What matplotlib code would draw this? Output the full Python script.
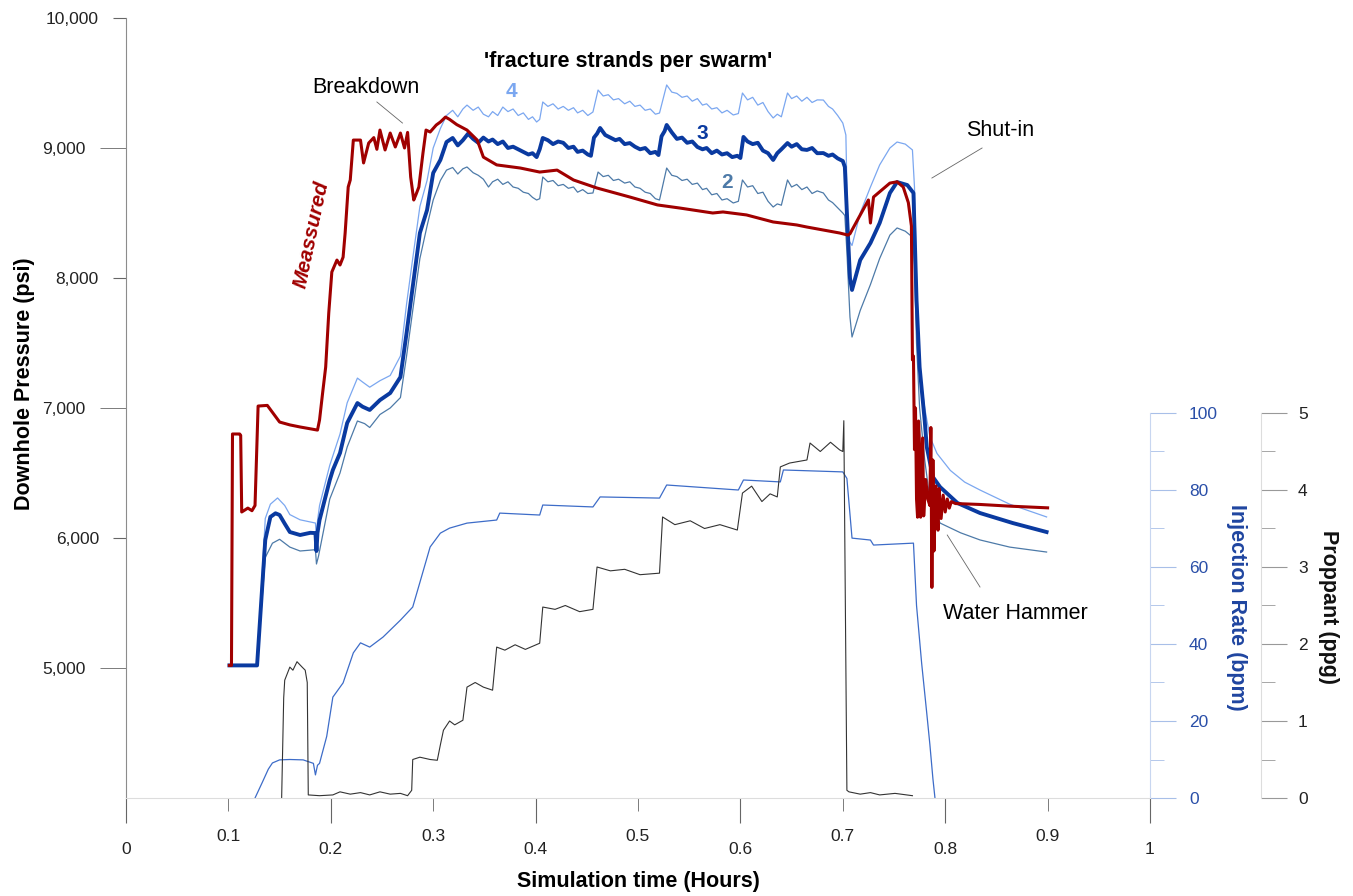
import matplotlib.pyplot as plt

plt.rcParams['font.family'] = ['Liberation Sans', 'DejaVu Sans']

# ---- data (time in hours) ----
# measured downhole pressure (psi)
t_meas = [0.101, 0.103, 0.104, 0.111, 0.112, 0.113, 0.119, 0.123, 0.126, 0.129, 0.138, 0.150,
          0.160, 0.170, 0.180, 0.187, 0.189, 0.192, 0.195, 0.198, 0.201, 0.206, 0.209, 0.212,
          0.214, 0.217, 0.219, 0.222, 0.229, 0.232, 0.237, 0.242, 0.245, 0.248, 0.253, 0.258,
          0.263, 0.268, 0.272, 0.275, 0.278, 0.281, 0.283, 0.286, 0.290, 0.293, 0.297, 0.303,
          0.307, 0.312, 0.316, 0.323, 0.333, 0.343, 0.349, 0.362, 0.385, 0.404, 0.421, 0.437,
          0.460, 0.492, 0.519, 0.541, 0.573, 0.583, 0.606, 0.632, 0.655, 0.665, 0.697, 0.705,
          0.707, 0.725, 0.727, 0.730, 0.746, 0.753, 0.759, 0.764, 0.767, 0.768, 0.769, 0.770,
          0.771, 0.772, 0.773, 0.774, 0.775, 0.776, 0.777, 0.778, 0.779, 0.781, 0.783, 0.785,
          0.786, 0.787, 0.788, 0.789, 0.791, 0.793, 0.794, 0.796, 0.798, 0.800, 0.802, 0.804,
          0.806, 0.810, 0.834, 0.863, 0.900]
p_meas = [5020, 5020, 6800, 6800, 6790, 6200, 6230, 6210, 6250, 7015, 7020, 6892,
          6870, 6854, 6840, 6830, 6908, 7115, 7315, 7730, 8046, 8138, 8100, 8160,
          8346, 8700, 8754, 9061, 9061, 8885, 9038, 9080, 8990, 9138, 8985, 9115,
          9008, 9115, 9000, 9120, 8777, 8600, 8638, 8700, 8961, 9138, 9123, 9177,
          9200, 9238, 9220, 9180, 9138, 9061, 8930, 8870, 8846, 8815, 8830, 8754,
          8692, 8623, 8562, 8538, 8500, 8508, 8485, 8431, 8408, 8392, 8346, 8330,
          8340, 8600, 8423, 8623, 8730, 8740, 8700, 8580, 8400, 7370, 7400, 6680,
          7000, 6300, 6160, 6900, 6700, 6160, 6500, 6770, 6170, 6450, 6300, 6250,
          6850, 5620, 6600, 5900, 6400, 6060, 6380, 6150, 6330, 6200, 6300, 6230,
          6280, 6265, 6258, 6245, 6232]

# simulated pressure, 3 strands per swarm
t_sim3 = [0.101, 0.128, 0.136, 0.141, 0.146, 0.150, 0.155, 0.160, 0.170, 0.180, 0.185, 0.186,
          0.187, 0.189, 0.199, 0.202, 0.209, 0.216, 0.226, 0.231, 0.238, 0.248, 0.258, 0.268,
          0.274, 0.280, 0.287, 0.294, 0.300, 0.307, 0.313, 0.319, 0.324, 0.329, 0.334, 0.339,
          0.344, 0.349, 0.354, 0.358, 0.363, 0.368, 0.373, 0.378, 0.383, 0.388, 0.393, 0.397,
          0.401, 0.404, 0.407, 0.412, 0.417, 0.422, 0.427, 0.432, 0.437, 0.441, 0.446, 0.451,
          0.454, 0.457, 0.460, 0.463, 0.468, 0.473, 0.478, 0.482, 0.487, 0.492, 0.497, 0.502,
          0.507, 0.512, 0.517, 0.520, 0.523, 0.526, 0.528, 0.533, 0.538, 0.543, 0.548, 0.553,
          0.558, 0.563, 0.567, 0.572, 0.577, 0.582, 0.587, 0.592, 0.597, 0.600, 0.603, 0.607,
          0.612, 0.617, 0.622, 0.627, 0.632, 0.636, 0.640, 0.646, 0.650, 0.655, 0.660, 0.665,
          0.670, 0.675, 0.681, 0.686, 0.690, 0.695, 0.700, 0.702, 0.704, 0.707, 0.709, 0.717,
          0.727, 0.736, 0.746, 0.753, 0.763, 0.769, 0.772, 0.775, 0.780, 0.782, 0.788, 0.795,
          0.812, 0.834, 0.866, 0.899]
p_sim3 = [5020, 5020, 5985, 6162, 6190, 6177, 6110, 6046, 6023, 6040, 6038, 5900,
          6040, 6138, 6446, 6523, 6654, 6885, 7038, 7010, 6985, 7061, 7115, 7238,
          7577, 7931, 8346, 8523, 8808, 8908, 9046, 9077, 9020, 9060, 9110, 9070,
          9040, 9080, 9050, 9065, 9030, 9050, 9000, 9010, 8990, 8970, 8950, 8960,
          8930, 8990, 9077, 9060, 9030, 9050, 9040, 9000, 9010, 8970, 8980, 8950,
          8940, 9080, 9110, 9154, 9100, 9080, 9060, 9070, 9030, 9038, 9010, 8990,
          9000, 8960, 8970, 8946, 9090, 9130, 9177, 9120, 9070, 9080, 9040, 9050,
          9008, 8990, 9000, 8960, 8980, 8950, 8960, 8930, 8940, 8923, 9085, 9050,
          9030, 9040, 8980, 8960, 8908, 8960, 8990, 9038, 9010, 9030, 8990, 8985,
          9000, 8960, 8961, 8940, 8950, 8920, 8900, 8854, 8500, 8000, 7908, 8138,
          8269, 8423, 8654, 8738, 8715, 8654, 7831, 7315, 6900, 6700, 6469, 6392,
          6269, 6192, 6115, 6046]

# simulated pressure, 4 strands per swarm
t_sim4 = [0.101, 0.128, 0.136, 0.141, 0.148, 0.155, 0.160, 0.170, 0.185, 0.186, 0.187, 0.189,
          0.199, 0.209, 0.216, 0.226, 0.231, 0.238, 0.248, 0.258, 0.268, 0.274, 0.280, 0.287,
          0.294, 0.300, 0.307, 0.313,
          0.319, 0.324, 0.329, 0.333, 0.339, 0.344, 0.349, 0.354, 0.358, 0.363,
          0.368, 0.373, 0.378, 0.383, 0.388, 0.393, 0.397, 0.401, 0.404, 0.407,
          0.412, 0.417, 0.422, 0.427, 0.432, 0.437, 0.441, 0.446, 0.451, 0.456,
          0.461, 0.466, 0.471, 0.476, 0.481, 0.487, 0.492, 0.497, 0.502, 0.507,
          0.512, 0.517, 0.521, 0.528, 0.533, 0.538, 0.543, 0.548, 0.553, 0.558,
          0.563, 0.567, 0.572, 0.577, 0.582, 0.587, 0.593, 0.598, 0.602, 0.607,
          0.612, 0.617, 0.622, 0.627, 0.632, 0.636, 0.640, 0.646, 0.650, 0.655,
          0.660, 0.665, 0.670, 0.675, 0.681, 0.686, 0.690, 0.695, 0.700,
          0.703, 0.705, 0.709, 0.717, 0.727, 0.736, 0.746, 0.753, 0.761, 0.768, 0.770,
          0.772, 0.775, 0.780, 0.785, 0.792, 0.805, 0.819, 0.834, 0.863, 0.899]
p_sim4 = [5020, 5020, 6150, 6260, 6308, 6250, 6180, 6140, 6115, 6000, 6130, 6250,
          6560, 6800, 7040, 7230, 7200, 7160, 7210, 7250, 7400, 7800, 8150, 8550,
          8750, 9000, 9150, 9250,
          9290, 9240, 9300, 9330, 9290, 9315, 9260, 9240, 9280, 9250,
          9315, 9280, 9300, 9250, 9270, 9220, 9240, 9200, 9220, 9354,
          9320, 9340, 9300, 9320, 9290, 9310, 9270, 9290, 9250, 9277,
          9446, 9400, 9410, 9370, 9380, 9340, 9360, 9320, 9330, 9290,
          9300, 9260, 9269, 9485, 9430, 9420, 9390, 9400, 9360, 9380,
          9330, 9340, 9300, 9310, 9270, 9290, 9254, 9265, 9423, 9370,
          9390, 9330, 9350, 9280, 9231, 9260, 9240, 9423, 9380, 9400,
          9360, 9390, 9350, 9370, 9369, 9320, 9300, 9250, 9192,
          9100, 8300, 8250, 8500, 8700, 8870, 9000, 9046, 9030, 8985, 8700,
          8000, 7300, 7000, 6780, 6650, 6520, 6430, 6369, 6260, 6162]

# simulated pressure, 2 strands per swarm
t_sim2 = [0.101, 0.128, 0.136, 0.143, 0.150, 0.160, 0.170, 0.185, 0.186, 0.188, 0.199, 0.209,
          0.216, 0.226, 0.233, 0.238, 0.248, 0.258, 0.268, 0.274, 0.280, 0.287, 0.294, 0.300,
          0.307, 0.313,
          0.319, 0.324, 0.329, 0.333, 0.339, 0.344, 0.349, 0.354, 0.358, 0.363,
          0.368, 0.373, 0.378, 0.383, 0.388, 0.393, 0.397, 0.401, 0.404, 0.407,
          0.412, 0.417, 0.422, 0.427, 0.432, 0.437, 0.441, 0.446, 0.451, 0.456,
          0.461, 0.466, 0.471, 0.476, 0.481, 0.487, 0.492, 0.497, 0.502, 0.507,
          0.512, 0.517, 0.521, 0.528, 0.533, 0.538, 0.543, 0.548, 0.553, 0.558,
          0.563, 0.567, 0.572, 0.577, 0.582, 0.587, 0.593, 0.598, 0.602, 0.607,
          0.612, 0.617, 0.622, 0.627, 0.632, 0.636, 0.640, 0.646, 0.650, 0.655,
          0.660, 0.665, 0.670, 0.675, 0.681, 0.686, 0.690, 0.695, 0.700,
          0.702, 0.704, 0.707, 0.709, 0.717, 0.727, 0.736, 0.746, 0.753, 0.761, 0.768,
          0.770, 0.772, 0.775, 0.780, 0.785, 0.795, 0.815, 0.834, 0.863, 0.899]
p_sim2 = [5020, 5020, 5850, 5960, 5990, 5930, 5900, 5910, 5800, 5860, 6300, 6500,
          6700, 6900, 6880, 6850, 6950, 7000, 7080, 7400, 7750, 8150, 8400, 8600,
          8750, 8830,
          8850, 8800, 8840, 8854, 8810, 8790, 8760, 8700, 8740, 8760,
          8720, 8740, 8700, 8690, 8660, 8650, 8620, 8600, 8610, 8777,
          8740, 8750, 8710, 8720, 8690, 8700, 8660, 8680, 8650, 8654,
          8815, 8780, 8790, 8750, 8760, 8730, 8740, 8700, 8690, 8660,
          8650, 8610, 8600, 8846, 8790, 8780, 8750, 8760, 8720, 8730,
          8680, 8690, 8640, 8650, 8600, 8610, 8577, 8590, 8754, 8700,
          8710, 8650, 8660, 8590, 8546, 8570, 8560, 8754, 8700, 8720,
          8680, 8700, 8650, 8670, 8654, 8600, 8580, 8540, 8500,
          8480, 8200, 7700, 7546, 7750, 7950, 8150, 8330, 8385, 8360, 8315,
          8100, 7500, 7000, 6600, 6300, 6115, 6040, 5985, 5930, 5892]

# injection rate (bpm)
t_rate = [0.126, 0.133, 0.139, 0.143, 0.150, 0.160, 0.173, 0.183, 0.185, 0.187, 0.189, 0.196,
          0.202, 0.212, 0.222, 0.229, 0.238, 0.251, 0.268, 0.280, 0.287, 0.297, 0.307, 0.316,
          0.333, 0.362, 0.365, 0.404, 0.407, 0.456, 0.463, 0.521, 0.528, 0.598, 0.603, 0.639,
          0.642, 0.700, 0.704, 0.709, 0.727, 0.730, 0.769, 0.772, 0.777, 0.782, 0.785, 0.788,
          0.790]
rate = [0, 4, 7.5, 9.1, 9.9, 10, 9.9, 9, 6, 8.5, 9, 16,
        26.2, 29.9, 37.7, 40.3, 39.2, 41.8, 46.2, 49.6, 56, 65.2, 68.8, 70.1,
        71.4, 72.2, 74, 73.5, 76.1, 75.6, 78.2, 77.9, 81.3, 80, 82.6, 82.1,
        85.2, 84.7, 83, 67.5, 67, 65.7, 66.2, 50, 35, 22, 14, 5,
        0]

# proppant concentration (ppg)
t_prop = [0.152, 0.154, 0.155, 0.160, 0.163, 0.167, 0.172, 0.175, 0.177, 0.178, 0.189, 0.202,
          0.209, 0.219, 0.229, 0.238, 0.248, 0.258, 0.268, 0.275, 0.279, 0.280, 0.287, 0.297,
          0.304, 0.307, 0.310, 0.316, 0.321, 0.329, 0.333, 0.341, 0.349, 0.358, 0.362, 0.370,
          0.380, 0.390, 0.404, 0.407, 0.419, 0.429, 0.443, 0.456, 0.460, 0.473, 0.487, 0.502,
          0.521, 0.524, 0.536, 0.551, 0.565, 0.580, 0.597, 0.602, 0.611, 0.621, 0.629, 0.636,
          0.639, 0.648, 0.665, 0.668, 0.678, 0.688, 0.697, 0.700, 0.701, 0.704, 0.706, 0.717,
          0.727, 0.736, 0.751, 0.768]
prop = [0, 1.3, 1.53, 1.70, 1.66, 1.77, 1.70, 1.66, 1.5, 0.04, 0.03, 0.04,
        0.08, 0.05, 0.07, 0.04, 0.08, 0.05, 0.06, 0.03, 0.1, 0.5, 0.53, 0.50,
        0.49, 0.69, 0.88, 1.0, 0.95, 1.01, 1.44, 1.50, 1.44, 1.40, 1.96, 1.92,
        1.99, 1.93, 2.01, 2.48, 2.45, 2.50, 2.42, 2.45, 3.0, 2.95, 2.97, 2.90,
        2.92, 3.65, 3.55, 3.60, 3.50, 3.55, 3.48, 3.96, 4.05, 3.85, 3.95, 3.91,
        4.3, 4.35, 4.39, 4.61, 4.50, 4.62, 4.52, 4.5, 4.9, 0.1, 0.08, 0.05,
        0.07, 0.04, 0.06, 0.03]

x_major = [0, 0.2, 0.4, 0.6, 0.8, 1.0]
x_major_lbl = ['0', '0.2', '0.4', '0.6', '0.8', '1']
x_minor = [0.1, 0.3, 0.5, 0.7, 0.9]
x_minor_lbl = ['0.1', '0.3', '0.5', '0.7', '0.9']
p_major = [6000, 8000, 10000]
p_minor = [5000, 7000, 9000]
rate_ticks = [0, 20, 40, 60, 80, 100]
prop_ticks = [0, 1, 2, 3, 4, 5]

# colours
C_MEAS = '#a00000'
C_S3 = '#0a3aa0'
C_S4 = '#7ba7f0'
C_S2 = '#4d7aa8'
C_RATE = '#3d6cc8'
C_PROP = '#333333'

W, H = 1353, 896
fig = plt.figure(figsize=(W / 100, H / 100), dpi=100)
ax = fig.add_axes([126 / W, 1 - 798 / H, 1024 / W, 780 / H])

# rate / proppant scales only use the lower part of the plot
rate_top = 100 * 780 / 385
prop_top = 5 * 780 / 385

ax_r = ax.twinx()
ax_p = ax.twinx()

ax_p.plot(t_prop, prop, color=C_PROP, lw=0.8)
ax_r.plot(t_rate, rate, color=C_RATE, lw=0.9)

ax.plot(t_sim4, p_sim4, color=C_S4, lw=0.9)
ax.plot(t_sim2, p_sim2, color=C_S2, lw=0.9)
ax.plot(t_sim3, p_sim3, color=C_S3, lw=2.8)
ax.plot(t_meas, p_meas, color=C_MEAS, lw=2.2)
ax.set_zorder(3)
ax.patch.set_visible(False)

ax.set_xlim(0, 1)
ax.set_ylim(4000, 10000)
ax_r.set_ylim(0, rate_top)
ax_p.set_ylim(0, prop_top)

# main axis styling
for s in ['top', 'right']:
    ax.spines[s].set_visible(False)
ax.spines['left'].set_color('#8c8c8c')
ax.spines['bottom'].set_color('#dddddd')

ax.set_xticks(x_major, labels=x_major_lbl)
ax.set_xticks(x_minor, labels=x_minor_lbl, minor=True)
ax.tick_params(axis='x', which='major', length=18, pad=13.5, color='#666666', labelsize=12.5, labelcolor='#222222')
ax.tick_params(axis='x', which='minor', length=9, pad=13.5, color='#666666', labelsize=12.5, labelcolor='#222222')

ax.set_yticks(p_major, labels=[f'{v:,}' for v in p_major])
ax.set_yticks(p_minor, labels=[f'{v:,}' for v in p_minor], minor=True)
ax.tick_params(axis='y', which='major', length=9.5, pad=10, color='#666666', labelsize=12.5, labelcolor='#222222')
ax.tick_params(axis='y', which='minor', length=19, pad=10, color='#666666', labelsize=12.5, labelcolor='#222222')

# injection rate axis
for s in ['top', 'left', 'bottom']:
    ax_r.spines[s].set_visible(False)
ax_r.spines['right'].set_bounds(0, 100)
ax_r.spines['right'].set_color('#c8d6f0')
ax_r.set_yticks(rate_ticks)
ax_r.set_yticks([10, 30, 50, 70, 90], minor=True)
ax_r.tick_params(axis='y', which='major', length=19, pad=9, color='#a8bfe8', labelsize=12.5, labelcolor='#2a4fa8')
ax_r.tick_params(axis='y', which='minor', length=10, color='#a8bfe8', labelleft=False, labelright=False)

# proppant axis
for s in ['top', 'left', 'bottom']:
    ax_p.spines[s].set_visible(False)
ax_p.spines['right'].set_position(('axes', 1.108))
ax_p.spines['right'].set_bounds(0, 5)
ax_p.spines['right'].set_color('#dddddd')
ax_p.set_yticks(prop_ticks)
ax_p.set_yticks([0.5, 1.5, 2.5, 3.5, 4.5], minor=True)
ax_p.tick_params(axis='y', which='major', length=19, pad=8, color='#999999', labelsize=12.5, labelcolor='#222222')
ax_p.tick_params(axis='y', which='minor', length=10, color='#999999', labelleft=False, labelright=False)

# axis titles
fig.text(638 / W, 1 - 881 / H, 'Simulation time (Hours)', ha='center', va='center',
         fontsize=15.5, fontweight='bold')
fig.text(25 / W, 1 - 384 / H, 'Downhole Pressure (psi)', ha='center', va='center',
         rotation=90, fontsize=15.5, fontweight='bold')
fig.text(1236 / W, 1 - 607 / H, 'Injection Rate (bpm)', ha='center', va='center',
         rotation=270, fontsize=15.5, fontweight='bold', color='#1f45a0')
fig.text(1328 / W, 1 - 607 / H, 'Proppant (ppg)', ha='center', va='center',
         rotation=270, fontsize=15.5, fontweight='bold', color='#111111')

# annotations
ax.text(0.490, 9669, "'fracture strands per swarm'", ha='center', va='center',
        fontsize=15.5, fontweight='bold')
ax.text(0.376, 9431, '4', ha='center', va='center', fontsize=15, fontweight='bold', color=C_S4)
ax.text(0.563, 9115, '3', ha='center', va='center', fontsize=15, fontweight='bold', color=C_S3)
ax.text(0.587, 8731, '2', ha='center', va='center', fontsize=15, fontweight='bold', color=C_S2)
ax.text(0.181, 8331, 'Meassured', ha='center', va='center', rotation=78,
        fontsize=15, fontweight='bold', fontstyle='italic', color=C_MEAS)

ax.text(0.234, 9462, 'Breakdown', ha='center', va='center', fontsize=15.5)
ax.plot([0.245, 0.270], [9354, 9192], color='#666666', lw=0.6)
ax.text(0.854, 9138, 'Shut-in', ha='center', va='center', fontsize=15.5)
ax.plot([0.836, 0.787], [9000, 8769], color='#666666', lw=0.6)
ax.text(0.869, 5423, 'Water Hammer', ha='center', va='center', fontsize=15.5)
ax.plot([0.834, 0.802], [5623, 6023], color='#666666', lw=0.6)

fig.savefig('out.png', dpi=100)
